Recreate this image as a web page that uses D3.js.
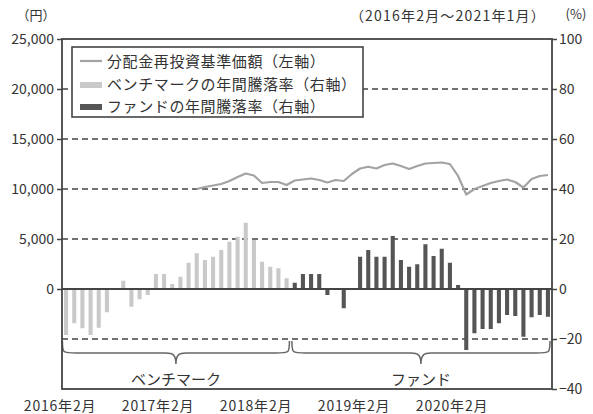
<!DOCTYPE html>
<html>
<head>
<meta charset="utf-8">
<script src="https://cdn.jsdelivr.net/npm/d3@7"></script>
<style>
  body { margin: 0; background: #fff; }
  text { font-family: "Noto Sans CJK JP", "Noto Sans", sans-serif; fill: #333; }
</style>
</head>
<body>
<div id="wrapper"></div>
<script>
// months Feb 2016 .. Jan 2021
const months = []
for (let i = 0; i < 60; i++) {
  const y = 2016 + Math.floor((i + 1) / 12)
  const m = ((i + 1) % 12) + 1
  months.push(`${y}年${m}月`)
}
const xTickLabels = ["2016年2月", "2017年2月", "2018年2月", "2019年2月", "2020年2月"]

// benchmark yearly change (%), Feb 2016 .. May 2018
const benchStart = 0
const benchRate = [-18.4, -13.7, -15.7, -18.4, -15.5, -9.3, 0, 3.3, -7.1, -4.1, -2.4, 6,
  6, 2, 4.9, 10.5, 14.3, 11.6, 12.9, 15.6, 18.9, 20.9, 26.5, 19.6, 10.9, 8.9, 8.3, 4.3]

// fund yearly change (%), Jun 2018 .. Jan 2021
const fundStart = 28
const fundRate = [2.5, 6, 6, 6, -2.4, 0, -7.7, 0, 12.9, 15.6, 12.9, 12.9, 21.2, 11.6, 8.9, 9.9,
  17.9, 13.2, 16.1, 10.5, 1.6, -24.4, -17.7, -16, -16, -13.7, -10.4, -10.8, -19.1, -11.3, -10.4, -11.1]

// reinvested NAV (yen), Jun 2017 .. Jan 2021
const navStart = 16
const navValues = [10000, 10200, 10350, 10500, 10800, 11200, 11550, 11350, 10600, 10700,
  10700, 10400, 10850, 10950, 11050, 10900, 10650, 10900, 10800, 11500, 12050, 12230,
  12050, 12400, 12550, 12300, 12000, 12300, 12550, 12600, 12650, 12500, 11300, 9450,
  10000, 10300, 10600, 10800, 10950, 10700, 10150, 11000, 11300, 11400]

const leftTicks = [0, 5000, 10000, 15000, 20000, 25000]
const rightTicks = [-40, -20, 0, 20, 40, 60, 80, 100]
const gridRight = [-20, 20, 40, 60, 80]

const legendItems = ["分配金再投資基準価額（左軸）", "ベンチマークの年間騰落率（右軸）", "ファンドの年間騰落率（右軸）"]

const width = 593, height = 414
const margin = { top: 39, right: 41, bottom: 25, left: 62 }
const plotRight = width - margin.right
const plotBottom = height - margin.bottom

const svg = d3.select("#wrapper").append("svg")
    .attr("width", width)
    .attr("height", height)

const xScale = d3.scaleBand()
    .domain(months)
    .range([margin.left, plotRight])
    .paddingInner(0.5)
    .paddingOuter(0.25)

const yLeft = d3.scaleLinear()
    .domain([-10000, 25000])
    .range([plotBottom, margin.top])

const yRight = d3.scaleLinear()
    .domain([-40, 100])
    .range([plotBottom, margin.top])

const xc = d => xScale(d) + xScale.bandwidth() / 2

// dashed grid
svg.append("g").selectAll("line")
  .data(gridRight)
  .join("line")
    .attr("x1", margin.left)
    .attr("x2", plotRight)
    .attr("y1", d => yRight(d))
    .attr("y2", d => yRight(d))
    .attr("stroke", "#444")
    .attr("stroke-width", 1.3)
    .attr("stroke-dasharray", "6,4")

// bars
const barData = benchRate.map((v, i) => ({ m: months[benchStart + i], v, kind: "bench" }))
  .concat(fundRate.map((v, i) => ({ m: months[fundStart + i], v, kind: "fund" })))

svg.append("g").selectAll("rect")
  .data(barData)
  .join("rect")
    .attr("x", d => xScale(d.m))
    .attr("width", xScale.bandwidth())
    .attr("y", d => yRight(Math.max(0, d.v)))
    .attr("height", d => Math.abs(yRight(d.v) - yRight(0)))
    .attr("fill", d => d.kind === "bench" ? "#c9c9c9" : "#555")

// zero line
svg.append("line")
    .attr("x1", margin.left)
    .attr("x2", plotRight)
    .attr("y1", yRight(0))
    .attr("y2", yRight(0))
    .attr("stroke", "#444")
    .attr("stroke-width", 1.8)

// nav line
const lineGenerator = d3.line()
    .x((d, i) => xc(months[navStart + i]))
    .y(d => yLeft(d))

svg.append("path")
    .attr("d", lineGenerator(navValues))
    .attr("fill", "none")
    .attr("stroke", "#a3a3a3")
    .attr("stroke-width", 2.2)
    .attr("stroke-linejoin", "round")

// braces
function bracePath(x1, x2, y0) {
  const h = 12, tip = 11, mid = (x1 + x2) / 2
  return `M${x1},${y0} C${x1},${y0 + h} ${x1},${y0 + h} ${x1 + 14},${y0 + h}
    L${mid - 10},${y0 + h} C${mid - 3},${y0 + h} ${mid},${y0 + h + 2} ${mid},${y0 + h + tip}
    C${mid},${y0 + h + 2} ${mid + 3},${y0 + h} ${mid + 10},${y0 + h}
    L${x2 - 14},${y0 + h} C${x2},${y0 + h} ${x2},${y0 + h} ${x2},${y0}`
}
const step = xScale.step()
const groups = [
  { label: "ベンチマーク", x1: xScale(months[benchStart]) - step * 0.2, x2: xScale(months[fundStart - 1]) + step * 0.6 },
  { label: "ファンド", x1: xScale(months[fundStart]) - step * 0.1, x2: plotRight - 2 }
]
const braceTop = yRight(-20) + 2
svg.append("g").selectAll("path")
  .data(groups)
  .join("path")
    .attr("d", d => bracePath(d.x1, d.x2, braceTop))
    .attr("fill", "none")
    .attr("stroke", "#666")
    .attr("stroke-width", 1.5)

svg.append("g").selectAll("text")
  .data(groups)
  .join("text")
    .attr("x", d => (d.x1 + d.x2) / 2)
    .attr("y", braceTop + 44)
    .attr("text-anchor", "middle")
    .attr("font-size", 15)
    .text(d => d.label)

// frame
svg.append("rect")
    .attr("x", margin.left)
    .attr("y", margin.top)
    .attr("width", plotRight - margin.left)
    .attr("height", plotBottom - margin.top)
    .attr("fill", "none")
    .attr("stroke", "#444")
    .attr("stroke-width", 1.8)

// axes
const yAxisLeft = svg.append("g")
    .attr("transform", `translate(${margin.left},0)`)
    .call(d3.axisLeft(yLeft).tickValues(leftTicks).tickFormat(d3.format(",")).tickSize(5).tickPadding(3))
yAxisLeft.select(".domain").remove()

const yAxisRight = svg.append("g")
    .attr("transform", `translate(${plotRight},0)`)
    .call(d3.axisRight(yRight).tickValues(rightTicks).tickSize(5).tickPadding(2))
yAxisRight.select(".domain").remove()

svg.selectAll(".tick line").attr("stroke", "#444").attr("stroke-width", 1.5)
svg.selectAll(".tick text")
    .attr("font-size", 14)
    .attr("font-family", "'Noto Sans CJK JP', sans-serif")
    .attr("fill", "#333")

// x labels
svg.append("g").selectAll("text")
  .data(xTickLabels)
  .join("text")
    .attr("x", d => xScale(d) - 4)
    .attr("y", 411)
    .attr("text-anchor", "middle")
    .attr("font-size", 14)
    .attr("letter-spacing", 0.8)
    .text(d => d)

// unit labels
svg.append("text").attr("x", 36).attr("y", 20).attr("text-anchor", "middle")
    .attr("font-size", 13).text("（円）")
svg.append("text").attr("x", 576).attr("y", 19).attr("text-anchor", "middle")
    .attr("font-size", 13).text("(%)")
svg.append("text").attr("x", 546).attr("y", 21).attr("text-anchor", "end")
    .attr("font-size", 14).attr("letter-spacing", 1.2).text("（2016年2月～2021年1月）")

// legend
const legend = svg.append("g")
legend.append("rect")
    .attr("x", 72).attr("y", 47)
    .attr("width", 291).attr("height", 70)
    .attr("fill", "#fff")
    .attr("stroke", "#444")
    .attr("stroke-width", 1.6)

legend.append("line")
    .attr("x1", 80).attr("x2", 102)
    .attr("y1", 61).attr("y2", 61)
    .attr("stroke", "#a3a3a3").attr("stroke-width", 2.2)
legend.append("rect")
    .attr("x", 80).attr("y", 82).attr("width", 22).attr("height", 6)
    .attr("fill", "#c9c9c9")
legend.append("rect")
    .attr("x", 80).attr("y", 104).attr("width", 22).attr("height", 6)
    .attr("fill", "#555")

legend.selectAll("text")
  .data(legendItems)
  .join("text")
    .attr("x", 107)
    .attr("y", (d, i) => 67 + i * 22.5)
    .attr("font-size", 15)
    .attr("letter-spacing", 0.6)
    .text(d => d)
</script>
</body>
</html>
